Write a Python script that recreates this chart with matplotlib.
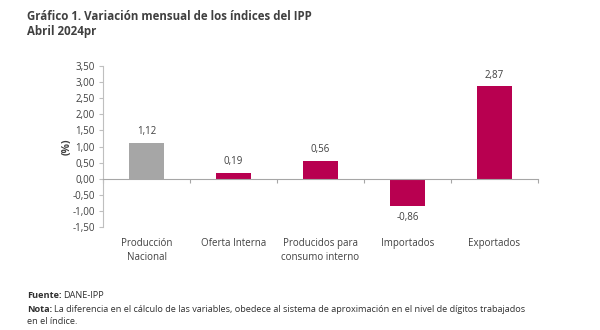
import matplotlib
matplotlib.use("Agg")
import matplotlib.pyplot as plt
import numpy as np

categories = ["Producción\nNacional", "Oferta Interna", "Producidos para\nconsumo interno", "Importados", "Exportados"]
values = [1.12, 0.19, 0.56, -0.86, 2.87]
value_labels = ["1,12", "0,19", "0,56", "-0,86", "2,87"]
bar_colors = ["#a6a6a6", "#b80050", "#b80050", "#b80050", "#b80050"]
yticks = [-1.5, -1.0, -0.5, 0.0, 0.5, 1.0, 1.5, 2.0, 2.5, 3.0, 3.5]

plt.rcParams['font.family'] = ['Open Sans', 'DejaVu Sans']
txt = "#404040"

fig = plt.figure(figsize=(6, 3.3), dpi=100)
ax = fig.add_axes([0.1717, 0.312, 0.725, 0.488])

x = np.arange(len(categories))
ax.bar(x, values, width=0.4, color=bar_colors, zorder=2)
ax.set_xlim(-0.5, len(categories) - 0.5)
ax.set_ylim(-1.5, 3.5)
ax.set_yticks(yticks)
ax.set_yticklabels([f"{v:.2f}".replace(".", ",") for v in yticks], fontsize=7, color=txt)
ax.tick_params(axis='y', length=3, color="#bfbfbf", pad=3)

for s in ["top", "right"]:
    ax.spines[s].set_visible(False)
ax.spines["left"].set_color("#bfbfbf")
ax.spines["left"].set_linewidth(0.8)
ax.spines["bottom"].set_position(("data", 0))
ax.spines["bottom"].set_color("#a6a6a6")
ax.spines["bottom"].set_linewidth(0.8)
ax.set_xticks(np.arange(len(categories) + 1) - 0.5)
ax.set_xticklabels([])
ax.tick_params(axis='x', length=3, color="#a6a6a6")

for i, (v, lab) in enumerate(zip(values, value_labels)):
    if v >= 0:
        ax.annotate(lab, (i, v), xytext=(0, 4), textcoords="offset points",
                    ha="center", va="bottom", fontsize=7, color=txt)
    else:
        ax.annotate(lab, (i, v), xytext=(0, -4), textcoords="offset points",
                    ha="center", va="top", fontsize=7, color=txt)

for i, c in enumerate(categories):
    ax.annotate(c, (i, -1.5), xytext=(0, -8), textcoords="offset points",
                ha="center", va="top", fontsize=7, color=txt, linespacing=1.4)

ax.set_ylabel("(%)", fontsize=7.5, fontweight="bold", color=txt, labelpad=0)

fig.text(27/600, 1 - 16/330, "Gráfico 1. Variación mensual de los índices del IPP",
         fontsize=8.3, fontweight="bold", color="#404040", va="center")
fig.text(27/600, 1 - 32/330, "Abril 2024pr",
         fontsize=8.3, fontweight="bold", color="#404040", va="center")

fig.text(27/600, 1 - 296/330, "Fuente:", fontsize=6.6, fontweight="bold", color="#303030", va="center")
fig.text(63/600, 1 - 296/330, "DANE-IPP", fontsize=6.6, color="#303030", va="center")
fig.text(27/600, 1 - 309/330, "Nota:", fontsize=6.6, fontweight="bold", color="#303030", va="center")
fig.text(54/600, 1 - 309/330, "La diferencia en el cálculo de las variables, obedece al sistema de aproximación en el nivel de dígitos trabajados",
         fontsize=6.6, color="#303030", va="center")
fig.text(27/600, 1 - 322/330, "en el índice.", fontsize=6.6, color="#303030", va="center")

fig.savefig("out.png", dpi=100)
